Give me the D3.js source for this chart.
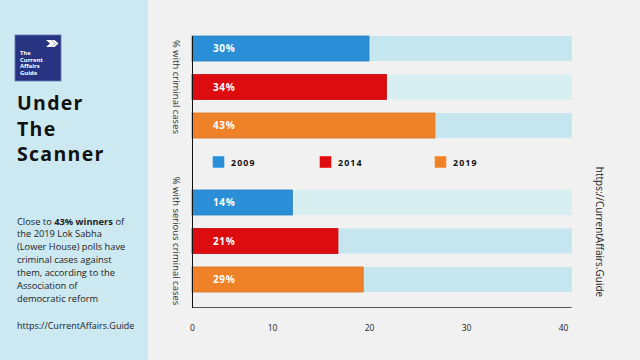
<!DOCTYPE html>
<html>
<head>
<meta charset="utf-8">
<script src="https://cdn.jsdelivr.net/npm/d3@7"></script>
<style>
  html, body { margin: 0; padding: 0; background: #f1f1f1; }
  svg { display: block; font-family: "Open Sans", "DejaVu Sans", sans-serif; }
</style>
</head>
<body>
<svg id="chart" width="640" height="360"></svg>
<script>
// ---- data ----
const years = ["2009", "2014", "2019"];
const groups = ["% with criminal cases", "% with serious criminal cases"];
// bar lengths as drawn on the axis
const lengthsCriminal = [20.0, 21.8, 26.8];
const lengthsSerious = [12.1, 16.8, 19.4];
// printed labels
const labelsCriminal = ["30%", "34%", "43%"];
const labelsSerious = ["14%", "21%", "29%"];
const axisTicks = [0, 10, 20, 30, 40];
const trackMax = 40.9;
const colors = ["#2a8fd6", "#dc0c0f", "#ef8128"];
const trackColors = ["#c6e6ef", "#d7eff0", "#c6e6ef", "#d7eff0", "#c6e6ef", "#c6e6ef"];
const paragraph = [
  [["Close to ", false], ["43% winners", true], [" of", false]],
  [["the 2019 Lok Sabha", false]],
  [["(Lower House) polls have", false]],
  [["criminal cases against", false]],
  [["them, according to the", false]],
  [["Association of", false]],
  [["democratic reform", false]]
];
const siteUrl = "https://CurrentAffairs.Guide";
const titleLines = ["Under", "The", "Scanner"];
const logoLines = ["The", "Current", "Affairs", "Guide"];

// ---- layout ----
const svg = d3.select("#chart");
svg.append("rect").attr("width", 640).attr("height", 360).attr("fill", "#f1f1f1");

// left panel
svg.append("rect").attr("x", 0).attr("y", 0).attr("width", 148).attr("height", 360).attr("fill", "#cce8f1");

// logo
const logo = svg.append("g").attr("transform", "translate(15,35)");
logo.append("rect").attr("width", 46).attr("height", 46).attr("fill", "#283482")
  .attr("stroke", "#6a78ad").attr("stroke-width", 0.8);
logo.append("path")
  .attr("d", "M31,5 L36,5 L40,8.5 L36,12 L31,12 L35,8.5 Z M36.5,5 L39.5,5 L43.5,8.5 L39.5,12 L36.5,12 L40.5,8.5 Z")
  .attr("fill", "#ffffff");
logo.selectAll("text.logo").data(logoLines).join("text")
  .attr("class", "logo")
  .attr("x", 5)
  .attr("y", (d, i) => 20 + i * 6.6)
  .attr("fill", "#ffffff")
  .attr("font-size", 5.9)
  .attr("font-weight", 700)
  .text(d => d);

// title
svg.selectAll("text.title").data(titleLines).join("text")
  .attr("class", "title")
  .attr("x", 17)
  .attr("y", (d, i) => 110 + i * 25.5)
  .attr("font-size", 19.5)
  .attr("font-weight", 700)
  .attr("letter-spacing", 1.3)
  .attr("fill", "#111")
  .text(d => d);

// paragraph
const para = svg.append("g");
paragraph.forEach((line, i) => {
  const t = para.append("text")
    .attr("x", 17)
    .attr("y", 224.5 + i * 12.9)
    .attr("font-size", 9.3)
    .attr("fill", "#222");
  line.forEach(([s, b]) => {
    t.append("tspan").attr("font-weight", b ? 700 : 400).text(s);
  });
});
svg.append("text").attr("x", 17).attr("y", 329).attr("font-size", 9).attr("fill", "#222").text(siteUrl);

// ---- chart ----
const x = d3.scaleLinear().domain([0, 10, 40]).range([192, 272, 563]);
const rows = ["c0", "c1", "c2", "legend", "s0", "s1", "s2"];
const y = d3.scaleBand().domain(rows).range([36, 292]).paddingInner(0.35).paddingOuter(0);

const barData = [];
years.forEach((yr, i) => {
  barData.push({ row: "c" + i, value: lengthsCriminal[i], label: labelsCriminal[i], color: colors[i] });
});
years.forEach((yr, i) => {
  barData.push({ row: "s" + i, value: lengthsSerious[i], label: labelsSerious[i], color: colors[i] });
});

// tracks
svg.selectAll("rect.track").data(barData).join("rect")
  .attr("class", "track")
  .attr("x", x(0))
  .attr("y", d => y(d.row))
  .attr("width", x(trackMax) - x(0))
  .attr("height", y.bandwidth())
  .attr("fill", (d, i) => trackColors[i]);

// bars
svg.selectAll("rect.bar").data(barData).join("rect")
  .attr("class", "bar")
  .attr("x", x(0))
  .attr("y", d => y(d.row))
  .attr("width", d => x(d.value) - x(0))
  .attr("height", y.bandwidth())
  .attr("fill", d => d.color)
  .attr("stroke", d => d3.color(d.color).darker(0.3))
  .attr("stroke-width", 0.8);

// bar labels
svg.selectAll("text.blabel").data(barData).join("text")
  .attr("class", "blabel")
  .attr("x", 213)
  .attr("y", d => y(d.row) + y.bandwidth() / 2 + 3.6)
  .attr("fill", "#ffffff")
  .attr("font-size", 10)
  .attr("font-weight", 700)
  .attr("letter-spacing", 0.6)
  .text(d => d.label);

// axes
const xAxis = d3.axisBottom(x).tickValues(axisTicks).tickSize(0).tickPadding(18).tickFormat(d3.format("d"));
const gx = svg.append("g").attr("transform", "translate(0,307)").call(xAxis);
gx.select(".domain").remove();
gx.selectAll("text").attr("font-size", 8.5).attr("fill", "#222").attr("font-family", "'Open Sans', sans-serif");

svg.append("line").attr("x1", x(0)).attr("x2", x(trackMax)).attr("y1", 307.5).attr("y2", 307.5)
  .attr("stroke", "#555").attr("stroke-width", 1);
svg.append("line").attr("x1", 192.5).attr("x2", 192.5).attr("y1", 36).attr("y2", 308)
  .attr("stroke", "#111").attr("stroke-width", 1);

// group labels (rotated)
const groupCenters = [
  (y("c0") + y("c2") + y.bandwidth()) / 2,
  (y("s0") + y("s2") + y.bandwidth()) / 2
];
svg.selectAll("text.glabel").data(groups).join("text")
  .attr("class", "glabel")
  .attr("transform", (d, i) => `translate(173,${groupCenters[i]}) rotate(90)`)
  .attr("text-anchor", "middle")
  .attr("font-size", 9.5)
  .attr("fill", "#333")
  .text(d => d);

// legend
const legendX = [213, 320, 435];
const ly = y("legend") + y.bandwidth() / 2 - 2;
const leg = svg.selectAll("g.leg").data(years).join("g").attr("class", "leg")
  .attr("transform", (d, i) => `translate(${legendX[i]},${ly})`);
leg.append("rect").attr("x", 0).attr("y", -5.5).attr("width", 11).attr("height", 11)
  .attr("fill", (d, i) => colors[i]).attr("stroke", (d, i) => d3.color(colors[i]).brighter(0.3)).attr("stroke-width", 0.6);
leg.append("text").attr("x", 18).attr("y", 3.5).attr("font-size", 8.8).attr("font-weight", 700)
  .attr("letter-spacing", 1.1).attr("fill", "#111").text(d => d);

// right side url
svg.append("text")
  .attr("transform", "translate(596,232) rotate(90)")
  .attr("text-anchor", "middle")
  .attr("font-size", 10)
  .attr("fill", "#222")
  .text(siteUrl);
</script>
</body>
</html>
